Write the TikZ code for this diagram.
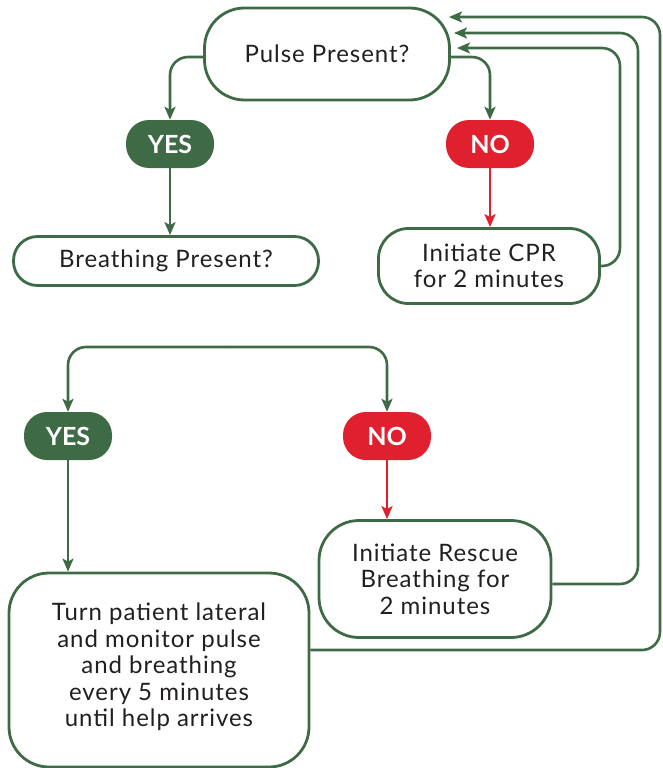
\documentclass[tikz,border=0pt]{standalone}
\usepackage{fontspec}
\setmainfont{Lato}[LetterSpace=4]
\newfontfamily\yesfont{Lato}
\usetikzlibrary{arrows.meta}
\definecolor{dkgreen}{HTML}{3E6B45}
\definecolor{lnred}{HTML}{E0202E}
\definecolor{txt}{HTML}{231F20}
\tikzset{
  box/.style={draw=dkgreen, line width=2.8pt, fill=white, align=center, text=txt, font=\fontsize{24}{26.5}\selectfont, inner sep=0pt},
  yesbox/.style={fill=dkgreen, text=white, font=\yesfont\fontsize{25}{26}\selectfont\bfseries, minimum width=88pt, minimum height=48pt, rounded corners=23pt, inner sep=0pt},
  nobox/.style={yesbox, fill=lnred},
  conn/.style={draw=dkgreen, line width=2.6pt, -{Stealth[length=13pt,width=11pt,inset=3pt]}},
  rconn/.style={conn, draw=lnred, -{Stealth[length=13pt,width=11pt,inset=3pt]}}
}
\begin{document}
\begin{tikzpicture}[x=1pt,y=-1pt]
\useasboundingbox (0,0) rectangle (662,768);
\node[box, minimum width=245pt, minimum height=92pt, rounded corners=40pt] (pulse) at (327,54) {\raisebox{-2pt}{Pulse Present?}};
\node[yesbox] (yes1) at (170,144) {YES};
\node[nobox] (no1) at (490,144) {NO};
\node[box, minimum width=305pt, minimum height=49pt, rounded corners=24pt] (breath) at (166,261) {Breathing Present?};
\node[box, minimum width=221pt, minimum height=75pt, rounded corners=30pt] (cpr) at (489,266) {Initiate CPR\\for 2 minutes};
\node[yesbox] (yes2) at (68,436) {YES};
\node[nobox] (no2) at (387,436) {NO};
\node[box, minimum width=232pt, minimum height=117pt, rounded corners=40pt] (rescue) at (435,579) {Initiate Rescue\\Breathing for\\2 minutes};
\node[box, minimum width=300pt, minimum height=194pt, rounded corners=40pt, text depth=10pt] (turn) at (159,670) {Turn patient lateral\\and monitor pulse\\and breathing\\every 5 minutes\\until help arrives};

\coordinate (in1) at (449,17);
\coordinate (in2) at (454,33);
\coordinate (in3) at (457,48);
\coordinate (split) at (226,347);

\draw[conn, rounded corners=18pt] ([yshift=-3pt]pulse.west) -| (yes1.north);
\draw[conn, rounded corners=18pt] ([yshift=-3pt]pulse.east) -| (no1.north);
\draw[conn] (yes1.south) -- (breath.north -| yes1.south);
\draw[rconn] (no1.south) -- (cpr.north -| no1.south);
\draw[conn, rounded corners=18pt] (cpr.east) -| (620,48) -- (in3);
\draw[conn, rounded corners=18pt] ([yshift=-5pt]rescue.east) -| (638,33) -- (in2);
\draw[conn, rounded corners=18pt] ([yshift=20pt]turn.east) -| (660,17) -- (in1);
\draw[conn, rounded corners=18pt] (split) -| (yes2.north);
\draw[conn, rounded corners=18pt] (split) -| (no2.north);
\draw[conn] (yes2.south) -- (turn.north -| yes2.south);
\draw[rconn] (no2.south) -- (rescue.north -| no2.south);
\end{tikzpicture}
\end{document}
